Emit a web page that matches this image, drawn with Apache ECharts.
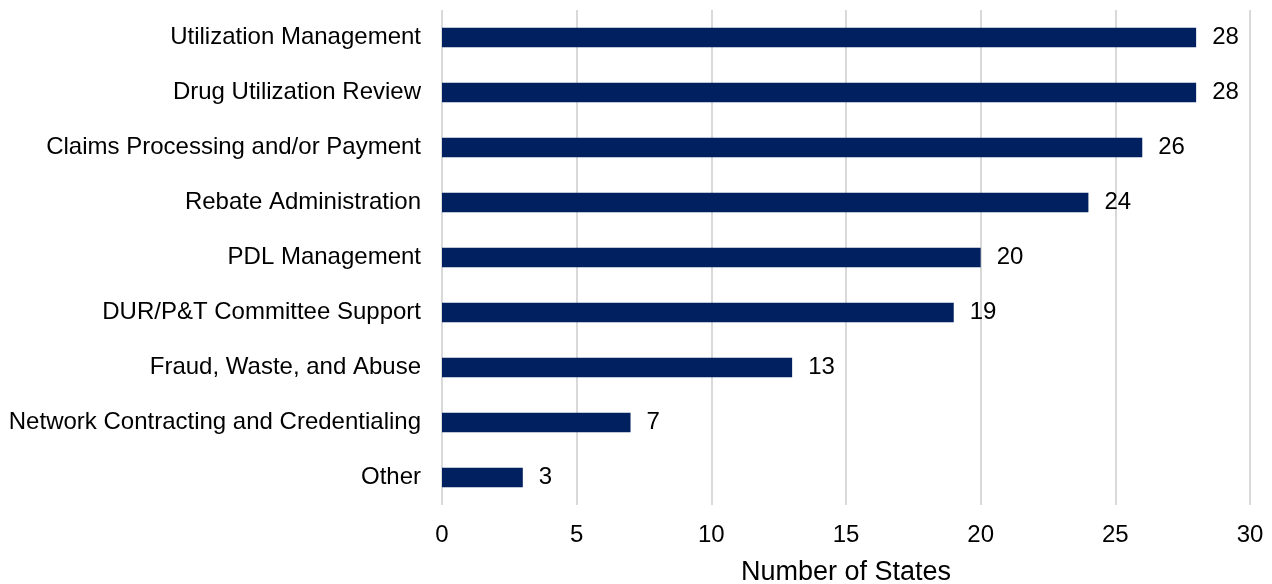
<!DOCTYPE html>
<html>
<head>
<meta charset="utf-8">
<script src="https://cdn.jsdelivr.net/npm/echarts@6/dist/echarts.min.js"></script>
<style>
  html, body { margin: 0; padding: 0; background: #fff; }
  #chart { width: 1272px; height: 584px; }
</style>
</head>
<body>
<div id="chart"></div>
<script>
// PBM functions contracted by states, listed top to bottom
const categories = [
  'Utilization Management',
  'Drug Utilization Review',
  'Claims Processing and/or Payment',
  'Rebate Administration',
  'PDL Management',
  'DUR/P&T Committee Support',
  'Fraud, Waste, and Abuse',
  'Network Contracting and Credentialing',
  'Other'
];
const stateCounts = [28, 28, 26, 24, 20, 19, 13, 7, 3];
const axisTitle = 'Number of States';

const font = 'Liberation Sans, Arial, sans-serif';
const chart = echarts.init(document.getElementById('chart'), null, { renderer: 'canvas' });

chart.setOption({
  animation: false,
  grid: {
    left: 442, right: 22, top: 10, bottom: 79,
    containLabel: false,
    outerBoundsMode: 'none'
  },
  xAxis: {
    type: 'value',
    min: 0, max: 30, interval: 5,
    name: axisTitle,
    nameLocation: 'middle',
    nameGap: 54,
    nameTextStyle: { fontFamily: font, fontSize: 27, color: '#000' },
    axisLine: { show: false },
    axisTick: { show: false },
    axisLabel: { fontFamily: font, fontSize: 24, color: '#000', margin: 18 },
    splitLine: { show: true, lineStyle: { color: '#d9d9d9', width: 2 } }
  },
  yAxis: {
    type: 'category',
    data: categories,
    inverse: true,
    axisLine: { show: false },
    axisTick: { show: false },
    axisLabel: { fontFamily: font, fontSize: 24, color: '#000', margin: 21, padding: [6, 0, 0, 0] }
  },
  series: [{
    type: 'bar',
    data: stateCounts,
    barWidth: 19.5,
    itemStyle: { color: '#002060' },
    label: {
      show: true,
      position: 'right',
      distance: 16,
      fontFamily: font,
      fontSize: 24,
      color: '#000',
      padding: [4, 0, 0, 0]
    }
  }]
});
</script>
</body>
</html>
